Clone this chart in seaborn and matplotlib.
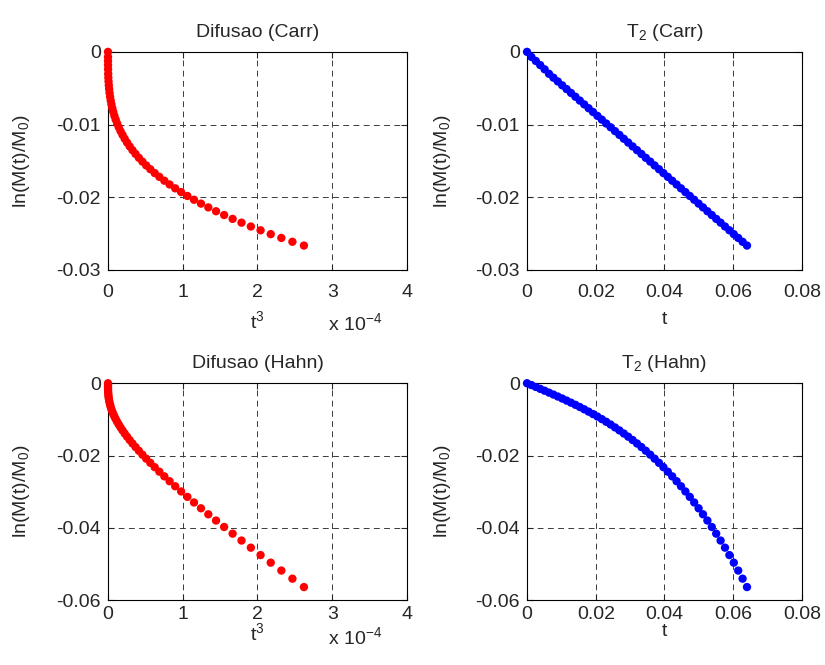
import numpy as np
import matplotlib
matplotlib.use("Agg")
import matplotlib.pyplot as plt
import seaborn as sns

# echo times t (s)
t = [0.00000, 0.00128, 0.00256, 0.00384, 0.00512, 0.00640, 0.00768, 0.00896,
     0.01024, 0.01152, 0.01280, 0.01408, 0.01536, 0.01664, 0.01792, 0.01920,
     0.02048, 0.02176, 0.02304, 0.02432, 0.02560, 0.02688, 0.02816, 0.02944,
     0.03072, 0.03200, 0.03328, 0.03456, 0.03584, 0.03712, 0.03840, 0.03968,
     0.04096, 0.04224, 0.04352, 0.04480, 0.04608, 0.04736, 0.04864, 0.04992,
     0.05120, 0.05248, 0.05376, 0.05504, 0.05632, 0.05760, 0.05888, 0.06016,
     0.06144, 0.06272, 0.06400]

# ln(M(t)/M0), Carr sequence
y_carr = [0.0, -0.00070, -0.00125, -0.00182, -0.00240, -0.00302, -0.00355, -0.00407,
          -0.00460, -0.00512, -0.00565, -0.00617, -0.00670, -0.00722, -0.00775, -0.00827,
          -0.00880, -0.00932, -0.00985, -0.01037, -0.01090, -0.01142, -0.01195, -0.01247,
          -0.01300, -0.01352, -0.01404, -0.01457, -0.01509, -0.01562, -0.01614, -0.01667,
          -0.01719, -0.01772, -0.01824, -0.01877, -0.01929, -0.01982, -0.02034, -0.02087,
          -0.02139, -0.02192, -0.02244, -0.02297, -0.02349, -0.02402, -0.02454, -0.02507,
          -0.02559, -0.02612, -0.02664]

# ln(M(t)/M0), Hahn sequence
y_hahn = [0.0, -0.00051, -0.00103, -0.00155, -0.00207, -0.00260, -0.00313, -0.00368,
          -0.00423, -0.00480, -0.00538, -0.00597, -0.00658, -0.00721, -0.00786, -0.00853,
          -0.00921, -0.00993, -0.01067, -0.01143, -0.01223, -0.01305, -0.01391, -0.01479,
          -0.01571, -0.01667, -0.01766, -0.01869, -0.01977, -0.02088, -0.02203, -0.02323,
          -0.02448, -0.02577, -0.02712, -0.02851, -0.02995, -0.03145, -0.03300, -0.03461,
          -0.03627, -0.03800, -0.03978, -0.04163, -0.04354, -0.04551, -0.04756, -0.04966,
          -0.05184, -0.05409, -0.05641]

x_t3 = [0, 1e-4, 2e-4, 3e-4, 4e-4]
x_t3_lab = ['0', '1', '2', '3', '4']
x_t = [0, 0.02, 0.04, 0.06, 0.08]
x_t_lab = ['0', '0.02', '0.04', '0.06', '0.08']
y_c = [0, -0.01, -0.02, -0.03]
y_c_lab = ['0', '-0.01', '-0.02', '-0.03']
y_h = [0, -0.02, -0.04, -0.06]
y_h_lab = ['0', '-0.02', '-0.04', '-0.06']

t3 = np.array(t) ** 3

sns.set_style("ticks")
plt.rcParams['font.family'] = ['Liberation Sans', 'DejaVu Sans']
plt.rcParams['mathtext.fontset'] = 'custom'
plt.rcParams['mathtext.rm'] = 'Liberation Sans'
plt.rcParams['mathtext.it'] = 'Liberation Sans'

FS = 14

fig = plt.figure(figsize=(8.25, 6.65), dpi=100)
ax_dc = fig.add_axes([0.1309, 0.5940, 0.3624, 0.3280])
ax_tc = fig.add_axes([0.6388, 0.5940, 0.3333, 0.3280])
ax_dh = fig.add_axes([0.1309, 0.0977, 0.3624, 0.3260])
ax_th = fig.add_axes([0.6388, 0.0977, 0.3333, 0.3260])

ylabel = 'ln(M(t)/M$_0$)'


def style_axis(ax, xticks, xlabels, yticks, ylabels, title, xlabel, xpad, lpad):
    ax.set_xlim(xticks[0], xticks[-1])
    ax.set_ylim(yticks[-1], yticks[0])
    ax.set_xticks(xticks)
    ax.set_xticklabels(xlabels, fontsize=FS)
    ax.set_yticks(yticks)
    ax.set_yticklabels(ylabels, fontsize=FS)
    ax.grid(True, color='#3a3a3a', linestyle=(0, (6, 4.5)), linewidth=0.7)
    ax.set_axisbelow(True)
    ax.tick_params(direction='in', top=True, right=True, length=4, width=0.8)
    ax.tick_params(axis='y', pad=5)
    ax.tick_params(axis='x', pad=xpad)
    for sp in ax.spines.values():
        sp.set_linewidth(0.8)
        sp.set_color('black')
    ax.set_title(title, fontsize=FS, pad=11)
    ax.set_xlabel(xlabel, fontsize=FS, labelpad=lpad)
    ax.set_ylabel(ylabel, fontsize=FS)


dot = dict(s=36, edgecolor='none', linewidth=0, legend=False, zorder=3, clip_on=False)

sns.scatterplot(x=t3, y=y_carr, color='#ff0000', ax=ax_dc, **dot)
sns.scatterplot(x=t, y=y_carr, color='#0000ff', ax=ax_tc, **dot)
sns.scatterplot(x=t3, y=y_hahn, color='#ff0000', ax=ax_dh, **dot)
sns.scatterplot(x=t, y=y_hahn, color='#0000ff', ax=ax_th, **dot)

style_axis(ax_dc, x_t3, x_t3_lab, y_c, y_c_lab, 'Difusao (Carr)', 't$^3$', 10, 7)
style_axis(ax_tc, x_t, x_t_lab, y_c, y_c_lab, 'T$_2$ (Carr)', 't', 10, 7)
style_axis(ax_dh, x_t3, x_t3_lab, y_h, y_h_lab, 'Difusao (Hahn)', 't$^3$', 4, 0)
style_axis(ax_th, x_t, x_t_lab, y_h, y_h_lab, 'T$_2$ (Hahn)', 't', 4, 0)

for ax, yoff in ((ax_dc, -0.245), (ax_dh, -0.17)):
    ax.yaxis.set_label_coords(-0.255, 0.5)
    ax.text(0.735, yoff, 'x 10$^{-4}$', transform=ax.transAxes,
            fontsize=FS, ha='left', va='center')
for ax in (ax_tc, ax_th):
    ax.yaxis.set_label_coords(-0.27, 0.5)

fig.savefig('out.png', dpi=100, facecolor='white')
